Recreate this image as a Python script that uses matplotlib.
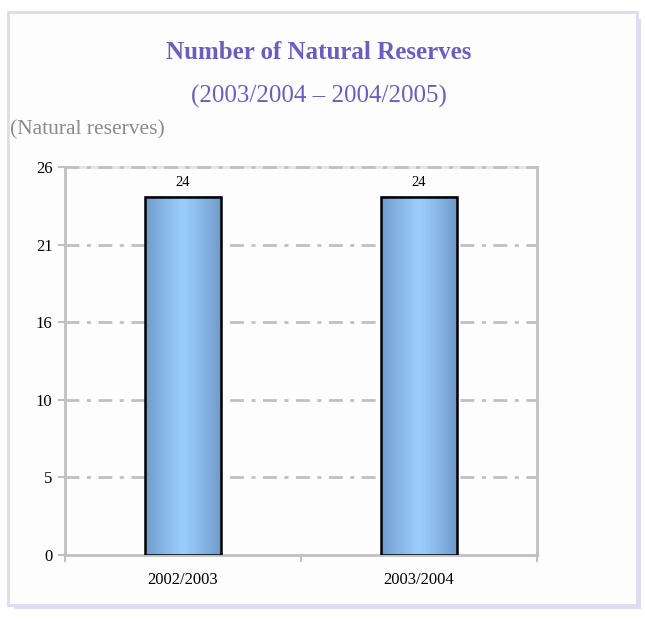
import numpy as np
import matplotlib
matplotlib.use("Agg")
from matplotlib import pyplot as plt
from matplotlib.patches import Rectangle

plt.rcParams["font.family"] = ["Liberation Serif", "DejaVu Serif"]

# 数据
years = ["2002/2003", "2003/2004"]
reserves = [24, 24]
y_max = 26
y_ticks = np.linspace(0, y_max, 6)   # Excel 式刻度 0,5.2,...,26
y_tick_labels = [f"{v:.0f}" for v in y_ticks]

title = "Number of Natural Reserves"
subtitle = "(2003/2004 \u2013 2004/2005)"
unit = "(Natural reserves)"

purple = "#6b5fbd"
grid_gray = "#c0c0c0"

fig = plt.figure(figsize=(6.45, 6.2), dpi=100)
fig.patch.set_facecolor("white")

# 外框 + 阴影
fig.patches.append(Rectangle((0.022, 0.018), 0.972, 0.952, transform=fig.transFigure,
                             facecolor="#dcdcf2", edgecolor="none", zorder=-3))
fig.patches.append(Rectangle((0.012, 0.024), 0.975, 0.957, transform=fig.transFigure,
                             facecolor="#fdfdfd", edgecolor="#dcdcf0", linewidth=2, zorder=-2))

fig.text(0.494, 0.916, title, ha="center", va="center", fontsize=18,
         fontweight="bold", color=purple)
fig.text(0.494, 0.844, subtitle, ha="center", va="center", fontsize=18, color=purple)
fig.text(0.015, 0.790, unit, ha="left", va="center", fontsize=15.5, color="#8a8a8a")

ax = fig.add_axes([0.1007, 0.1048, 0.732, 0.626])
ax.set_facecolor("none")
x = np.arange(len(years))
bars = ax.bar(x, reserves, width=0.32, color="none", edgecolor="black",
              linewidth=1.8, zorder=4)

# 横向渐变填充
grad = np.concatenate([np.linspace(0, 1, 50), np.linspace(1, 0, 50)])
grad = np.atleast_2d(grad ** 0.8)
cmap = matplotlib.colors.LinearSegmentedColormap.from_list("bar", ["#6c98c6", "#9bcdfd"])
for b, v in zip(bars, reserves):
    x0 = b.get_x()
    ax.imshow(grad, cmap=cmap, aspect="auto", zorder=3,
              extent=[x0, x0 + b.get_width(), 0, b.get_height()])
    ax.text(b.get_x() + b.get_width() / 2, v + 0.5, str(v), ha="center", va="bottom",
            fontsize=10.5)

ax.set_xlim(-0.5, len(years) - 0.5)
ax.set_ylim(0, y_max)
ax.set_yticks(y_ticks)
ax.set_yticklabels(y_tick_labels, fontsize=12)
ax.set_xticks(x)
ax.set_xticklabels(years, fontsize=12)
ax.tick_params(axis="x", length=0, pad=12)
ax.tick_params(axis="y", length=5, width=1.5, color=grid_gray, pad=4)

# 类别分隔刻度
for xb in [-0.5, 0.5, 1.5]:
    ax.plot([xb, xb], [0, -0.4], color=grid_gray, lw=1.5, clip_on=False, zorder=5)

for t in y_ticks[1:]:
    ax.axhline(t, color=grid_gray, lw=2, linestyle=(0, (5, 2.7, 1.45, 2.7)), zorder=1,
               clip_on=False)

for s in ax.spines.values():
    s.set_color(grid_gray)
    s.set_linewidth(2)
ax.spines["top"].set_color("#e4e4e4")
ax.spines["top"].set_zorder(0)

fig.savefig("out.png", dpi=100)
